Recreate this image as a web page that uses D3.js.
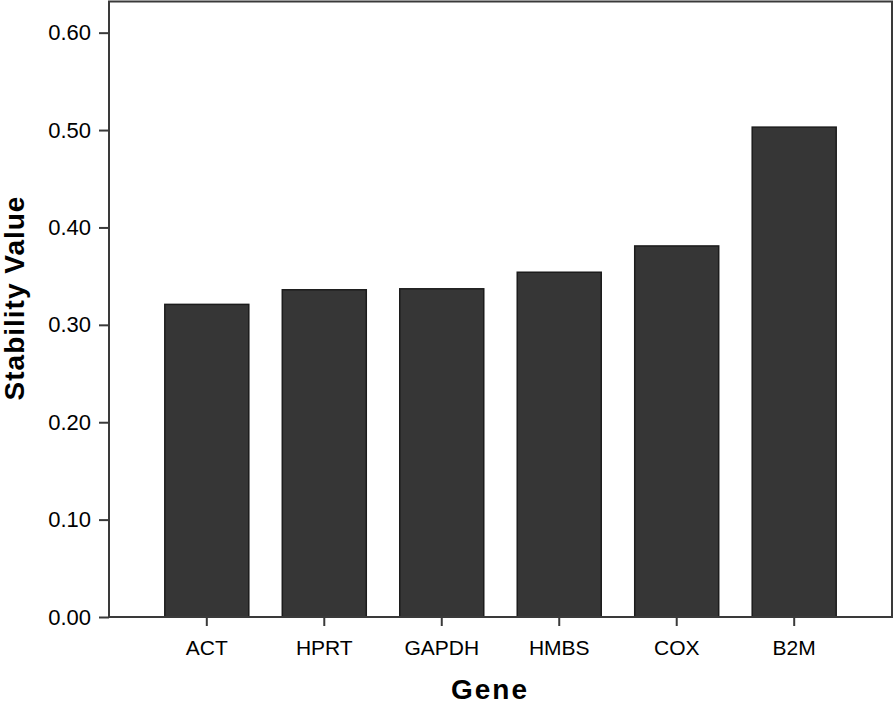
<!DOCTYPE html>
<html>
<head>
<meta charset="utf-8">
<script src="https://cdn.jsdelivr.net/npm/d3@7"></script>
<style>
  body { margin: 0; background: #fff; }
  svg { display: block; font-family: "Liberation Sans", Arial, sans-serif; }
</style>
</head>
<body>
<div id="chart"></div>
<script>
// Data
const genes = ['ACT', 'HPRT', 'GAPDH', 'HMBS', 'COX', 'B2M'];
const stability = [0.321, 0.336, 0.337, 0.354, 0.381, 0.503];
const yTicks = [0, 0.1, 0.2, 0.3, 0.4, 0.5, 0.6];

const width = 894, height = 704;
const plot = { left: 109, right: 892, top: 1.5, bottom: 617 };

const svg = d3.select('#chart')
    .append('svg')
    .attr('width', width)
    .attr('height', height);

const x = d3.scaleBand()
    .domain(genes)
    .range([plot.left, plot.right])
    .paddingInner(0.285)
    .paddingOuter(0.475);

const y = d3.scaleLinear()
    .domain([0, 0.632])
    .range([plot.bottom, plot.top]);

// Bars
svg.append('g')
    .selectAll('rect')
    .data(genes)
    .join('rect')
    .attr('x', d => x(d))
    .attr('y', (d, i) => y(stability[i]))
    .attr('width', x.bandwidth())
    .attr('height', (d, i) => y(0) - y(stability[i]))
    .attr('fill', '#363636')
    .attr('stroke', '#1c1c1c')
    .attr('stroke-width', 1.5);

// Frame
svg.append('rect')
    .attr('x', plot.left)
    .attr('y', plot.top)
    .attr('width', plot.right - plot.left)
    .attr('height', plot.bottom - plot.top)
    .attr('fill', 'none')
    .attr('stroke', '#3a3a3a')
    .attr('stroke-width', 2);

// Y axis
const yAxis = svg.append('g')
    .attr('transform', `translate(${plot.left},0)`)
    .call(d3.axisLeft(y).tickValues(yTicks).tickFormat(d3.format('.2f')).tickSize(10).tickPadding(8));
yAxis.select('.domain').remove();
yAxis.selectAll('line').attr('stroke', '#3a3a3a').attr('stroke-width', 2);
yAxis.selectAll('text')
    .attr('font-size', 22)
    .attr('fill', '#000')
    .style('font-family', '"Liberation Sans", Arial, sans-serif');

// X axis
const xAxis = svg.append('g')
    .attr('transform', `translate(0,${plot.bottom})`)
    .call(d3.axisBottom(x).tickSize(9).tickPadding(14));
xAxis.select('.domain').remove();
xAxis.selectAll('line').attr('stroke', '#3a3a3a').attr('stroke-width', 2);
xAxis.selectAll('text')
    .attr('font-size', 21)
    .attr('fill', '#000')
    .style('font-family', '"Liberation Sans", Arial, sans-serif');

// Axis titles
svg.append('text')
    .attr('x', 490)
    .attr('y', 699)
    .attr('text-anchor', 'middle')
    .attr('font-size', 28)
    .attr('font-weight', 'bold')
    .attr('letter-spacing', 2)
    .text('Gene');

svg.append('text')
    .attr('transform', `translate(24,298) rotate(-90)`)
    .attr('text-anchor', 'middle')
    .attr('font-size', 28)
    .attr('font-weight', 'bold')
    .attr('letter-spacing', 1)
    .text('Stability Value');
</script>
</body>
</html>
